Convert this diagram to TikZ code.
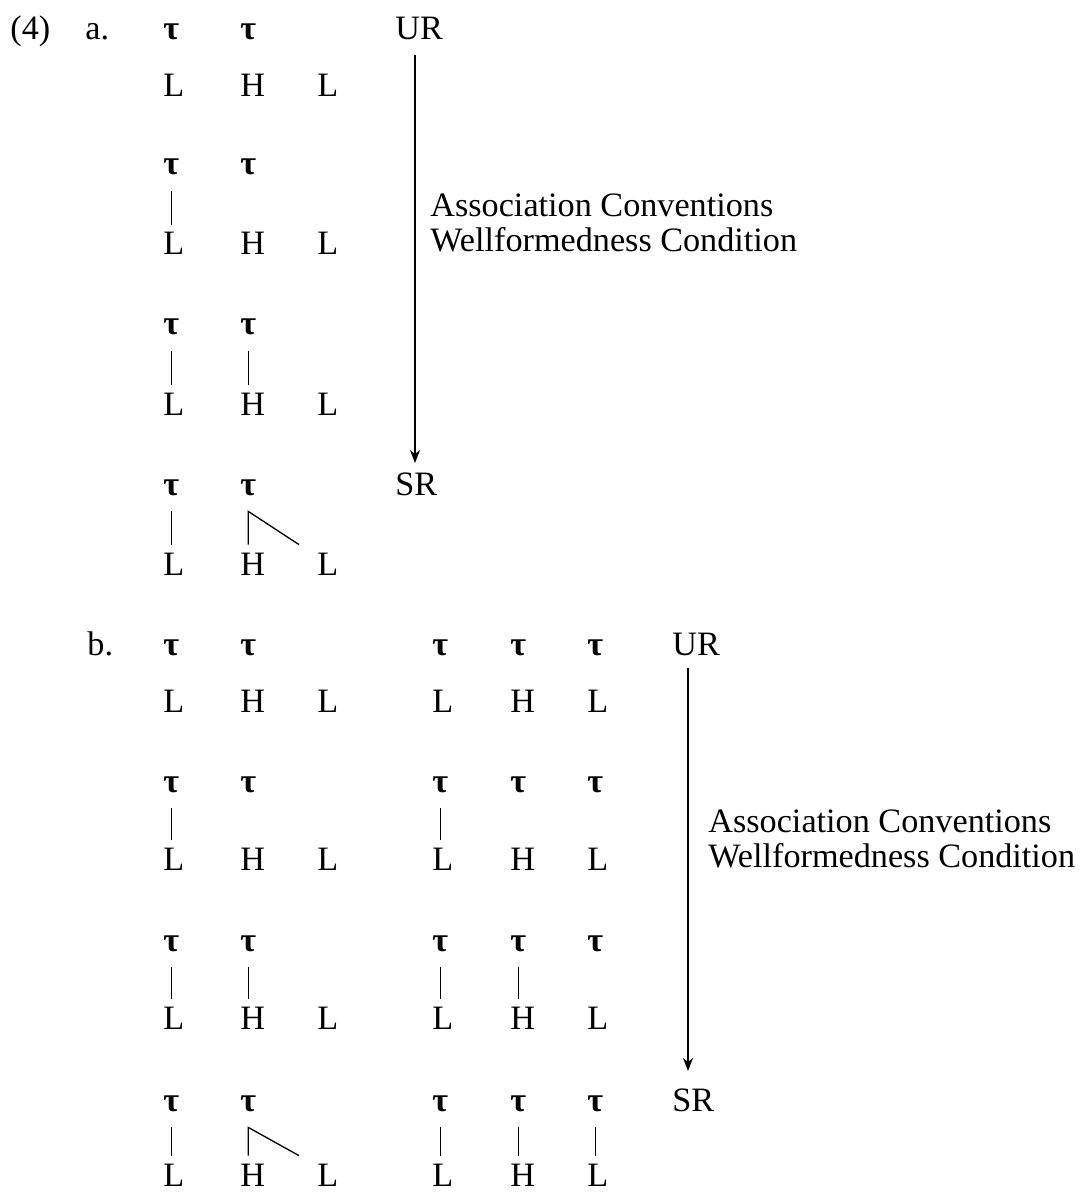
\documentclass[tikz,border=0pt]{standalone}
\usepackage{fontspec}
\setmainfont{Liberation Serif}
\usetikzlibrary{arrows.meta}
\begin{document}
\begin{tikzpicture}[x=0.5pt,y=-0.5pt,
  every node/.style={inner sep=0pt, font=\fontsize{17.1}{20}\selectfont},
  lbl/.style={anchor=base west},
  tau/.style={anchor=base west, text depth=0pt, inner ysep=8pt, font=\fontsize{17.1}{20}\selectfont\bfseries},
  tone/.style={anchor=base west, text height=15pt, text depth=0pt},
  assoc/.style={line width=0.65pt},
  arr/.style={line width=0.65pt, -{Stealth[length=6.5pt,width=5pt,inset=2pt]}}]
\useasboundingbox (0,0) rectangle (1085,1192);

% ---------- part a ----------
\node[lbl] (num) at (10,40) {(4)};
\node[lbl] (pa) at (85,40) {a.};
\node[lbl] (urA) at (395,40) {UR};
\node[lbl] (srA) at (395,495) {SR};
\node[lbl] (acA) at (430,217) {Association Conventions};
\node[lbl] (wfA) at (430,252) {Wellformedness Condition};
\coordinate (arrAtop) at (415,55);
\coordinate (arrAbot) at (415,463);
\draw[arr] (arrAtop) -- (arrAbot);

% block 1
\node[tau] (a1t1) at (163,40) {τ};
\node[tau] (a1t2) at (240,40) {τ};
\node[tone] (a1l1) at (163,97) {L};
\node[tone] (a1h) at (240,97) {H};
\node[tone] (a1l2) at (317,97) {L};
% block 2
\node[tau] (a2t1) at (163,175) {τ};
\node[tau] (a2t2) at (240,175) {τ};
\node[tone] (a2l1) at (163,255) {L};
\node[tone] (a2h) at (240,255) {H};
\node[tone] (a2l2) at (317,255) {L};
\draw[assoc] (a2t1.south) -- (a2t1.south |- a2l1.north);
% block 3
\node[tau] (a3t1) at (163,335) {τ};
\node[tau] (a3t2) at (240,335) {τ};
\node[tone] (a3l1) at (163,415) {L};
\node[tone] (a3h) at (240,415) {H};
\node[tone] (a3l2) at (317,415) {L};
\draw[assoc] (a3t1.south) -- (a3t1.south |- a3l1.north);
\draw[assoc] (a3t2.south) -- (a3t2.south |- a3h.north);
% block 4
\node[tau] (a4t1) at (163,495) {τ};
\node[tau] (a4t2) at (240,495) {τ};
\node[tone] (a4l1) at (163,575) {L};
\node[tone] (a4h) at (240,575) {H};
\node[tone] (a4l2) at (317,575) {L};
\draw[assoc] (a4t1.south) -- (a4t1.south |- a4l1.north);
\draw[assoc] (a4t2.south |- a4h.north) -- (a4t2.south) -- ([xshift=-9pt]a4l2.north west);

% ---------- part b ----------
\node[lbl] (pb) at (87,655) {b.};
\node[lbl] (urB) at (672,655) {UR};
\node[lbl] (srB) at (672,1111) {SR};
\node[lbl] (acB) at (708,832) {Association Conventions};
\node[lbl] (wfB) at (708,867) {Wellformedness Condition};
\coordinate (arrBtop) at (688,668);
\coordinate (arrBbot) at (688,1071);
\draw[arr] (arrBtop) -- (arrBbot);

% block 1
\node[tau] (b1t1) at (163,655) {τ};
\node[tau] (b1t2) at (240,655) {τ};
\node[tau] (b1t3) at (432,655) {τ};
\node[tau] (b1t4) at (510,655) {τ};
\node[tau] (b1t5) at (587,655) {τ};
\node[tone] (b1l1) at (163,712) {L};
\node[tone] (b1h) at (240,712) {H};
\node[tone] (b1l2) at (317,712) {L};
\node[tone] (b1l3) at (432,712) {L};
\node[tone] (b1h2) at (510,712) {H};
\node[tone] (b1l4) at (587,712) {L};
% block 2
\node[tau] (b2t1) at (163,792) {τ};
\node[tau] (b2t2) at (240,792) {τ};
\node[tau] (b2t3) at (432,792) {τ};
\node[tau] (b2t4) at (510,792) {τ};
\node[tau] (b2t5) at (587,792) {τ};
\node[tone] (b2l1) at (163,870) {L};
\node[tone] (b2h) at (240,870) {H};
\node[tone] (b2l2) at (317,870) {L};
\node[tone] (b2l3) at (432,870) {L};
\node[tone] (b2h2) at (510,870) {H};
\node[tone] (b2l4) at (587,870) {L};
\draw[assoc] (b2t1.south) -- (b2t1.south |- b2l1.north);
\draw[assoc] (b2t3.south) -- (b2t3.south |- b2l3.north);
% block 3
\node[tau] (b3t1) at (163,951) {τ};
\node[tau] (b3t2) at (240,951) {τ};
\node[tau] (b3t3) at (432,951) {τ};
\node[tau] (b3t4) at (510,951) {τ};
\node[tau] (b3t5) at (587,951) {τ};
\node[tone] (b3l1) at (163,1029) {L};
\node[tone] (b3h) at (240,1029) {H};
\node[tone] (b3l2) at (317,1029) {L};
\node[tone] (b3l3) at (432,1029) {L};
\node[tone] (b3h2) at (510,1029) {H};
\node[tone] (b3l4) at (587,1029) {L};
\draw[assoc] (b3t1.south) -- (b3t1.south |- b3l1.north);
\draw[assoc] (b3t2.south) -- (b3t2.south |- b3h.north);
\draw[assoc] (b3t3.south) -- (b3t3.south |- b3l3.north);
\draw[assoc] (b3t4.south) -- (b3t4.south |- b3h2.north);
% block 4
\node[tau] (b4t1) at (163,1111) {τ};
\node[tau] (b4t2) at (240,1111) {τ};
\node[tau] (b4t3) at (432,1111) {τ};
\node[tau] (b4t4) at (510,1111) {τ};
\node[tau] (b4t5) at (587,1111) {τ};
\node[tone] (b4l1) at (163,1186) {L};
\node[tone] (b4h) at (240,1186) {H};
\node[tone] (b4l2) at (317,1186) {L};
\node[tone] (b4l3) at (432,1186) {L};
\node[tone] (b4h2) at (510,1186) {H};
\node[tone] (b4l4) at (587,1186) {L};
\draw[assoc] (b4t1.south) -- (b4t1.south |- b4l1.north);
\draw[assoc] (b4t2.south |- b4h.north) -- (b4t2.south) -- ([xshift=-9pt]b4l2.north west);
\draw[assoc] (b4t3.south) -- (b4t3.south |- b4l3.north);
\draw[assoc] (b4t4.south) -- (b4t4.south |- b4h2.north);
\draw[assoc] (b4t5.south) -- (b4t5.south |- b4l4.north);
\end{tikzpicture}
\end{document}
